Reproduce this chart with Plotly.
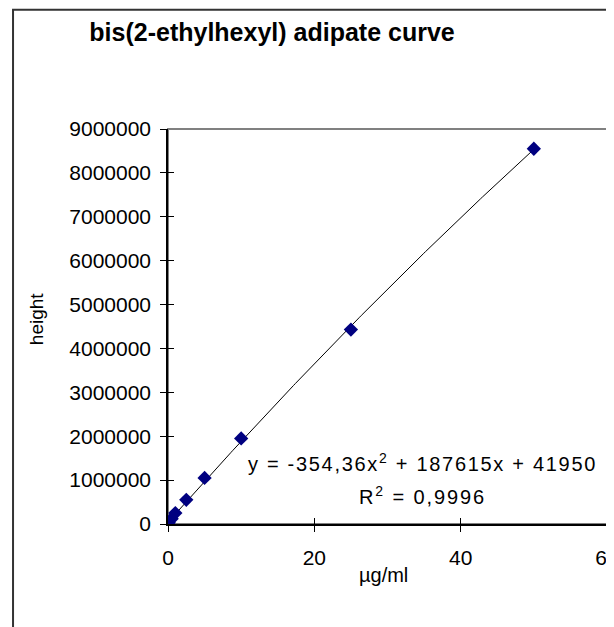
import numpy as np
import plotly.graph_objects as go

# Data
conc_ugml = [0.1, 0.5, 1, 2.5, 5, 10, 25, 50]
height = [30000, 120000, 250000, 550000, 1050000, 1950000, 4430000, 8550000]

# Trendline coefficients as printed on the chart (y = a x^2 + b x + c)
coef_a = -354.36
coef_b = 187615
coef_c = 41950
r_squared_label = "0,9996"

x_ticks = [0, 20, 40, 60]
y_ticks = [0, 1000000, 2000000, 3000000, 4000000, 5000000, 6000000, 7000000, 8000000, 9000000]

FONT = "Liberation Sans, Arial, sans-serif"

fx = np.linspace(min(conc_ugml), max(conc_ugml), 200)
fy = coef_a * fx**2 + coef_b * fx + coef_c

fig = go.Figure()
fig.add_trace(go.Scatter(x=fx, y=fy, mode="lines",
                         line=dict(color="black", width=1), hoverinfo="skip",
                         showlegend=False))
fig.add_trace(go.Scatter(x=conc_ugml, y=height, mode="markers",
                         marker=dict(symbol="diamond", size=11, color="#000080",
                                     line=dict(width=0)),
                         showlegend=False))
# duplicate axes to give Excel-style cross tick marks
fig.add_trace(go.Scatter(x=[None], y=[None], xaxis="x2", yaxis="y2", showlegend=False))

axis_common = dict(showgrid=False, zeroline=False, showline=True, linecolor="black",
                   linewidth=1.5, tickcolor="black", ticklen=6, tickwidth=1,
                   automargin=False, ticklabeloverflow="allow",
                   tickfont=dict(family=FONT, size=21, color="black"))

eq_text = (f'<span style="letter-spacing:1.7px">y = {str(coef_a).replace(".", ",")}x'
           f'<sup>2</sup> + {coef_b}x + {coef_c}</span>')
r2_text = f'<span style="letter-spacing:1.9px">R<sup>2</sup> = {r_squared_label}</span>'

fig.update_layout(
    width=614, height=627,
    margin=dict(l=160, r=15, t=121, b=111, autoexpand=False),
    paper_bgcolor="white", plot_bgcolor="white",
    title=dict(text="<b>bis(2-ethylhexyl) adipate curve</b>",
               font=dict(family=FONT, size=25, color="black"),
               x=0.430, xanchor="center", y=0.962, yanchor="middle"),
    xaxis=dict(range=[0, 60], tickvals=x_ticks, ticks="outside", ticklabelstandoff=8,
               **axis_common),
    yaxis=dict(range=[0, 9000000], tickvals=y_ticks, ticks="outside", ticklabelstandoff=5,
               tickformat="d", **axis_common),
    xaxis2=dict(range=[0, 60], tickvals=x_ticks, ticks="inside", overlaying="x",
                showticklabels=False, showgrid=False, zeroline=False, showline=False,
                tickcolor="black", ticklen=6, tickwidth=1, anchor="y"),
    yaxis2=dict(range=[0, 9000000], tickvals=y_ticks, ticks="inside", overlaying="y",
                showticklabels=False, showgrid=False, zeroline=False, showline=False,
                tickcolor="black", ticklen=6, tickwidth=1, anchor="x"),
    shapes=[
        dict(type="rect", xref="paper", yref="paper", x0=0, x1=1, y0=0, y1=1,
             line=dict(color="#808080", width=2), layer="below"),
        dict(type="rect", xref="paper", yref="paper", x0=-0.353, x1=2, y0=-1, y1=1.302,
             line=dict(color="#333333", width=2), layer="below"),
    ],
    annotations=[
        dict(text="µg/ml", x=0.49, y=-0.129, xref="paper", yref="paper", showarrow=False,
             font=dict(family=FONT, size=20, color="black"),
             xanchor="center", yanchor="middle"),
        dict(text="height", x=-0.298, y=0.519, xref="paper", yref="paper", showarrow=False,
             textangle=-90, font=dict(family=FONT, size=19, color="black"),
             xanchor="center", yanchor="middle"),
        dict(text=eq_text,
             x=34.8, y=1410000, xref="x", yref="y", showarrow=False,
             font=dict(family=FONT, size=20, color="black"), xanchor="center", yanchor="middle"),
        dict(text=r2_text,
             x=34.8, y=660000, xref="x", yref="y", showarrow=False,
             font=dict(family=FONT, size=20, color="black"), xanchor="center", yanchor="middle"),
    ],
)

fig.write_html("out.html")
